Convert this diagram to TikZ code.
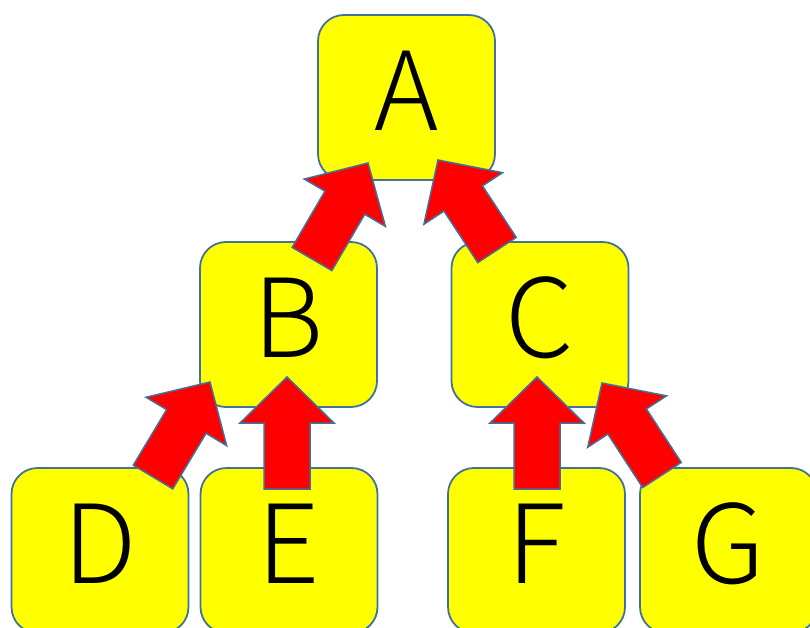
\documentclass[tikz,border=0pt]{standalone}
\usepackage{fontspec}
\newfontfamily\jpfont{Noto Sans CJK JP}[UprightFont=* Light]
\usetikzlibrary{calc}

\definecolor{boxfill}{HTML}{FFFF00}
\definecolor{boxline}{HTML}{41719C}
\definecolor{arrowfill}{HTML}{FF0000}

% block arrow dimensions
\newcommand\shafthalf{23pt}
\newcommand\winghalf{47pt}
\newcommand\headlen{46pt}

% filled block arrow from a tail coordinate to a tip coordinate
\newcommand\blockarrow[2]{%
  \coordinate (#1-base) at ($(#2)!\headlen!(#1)$);
  \draw[blockarrow]
    ($(#1)!\shafthalf!90:(#2)$) --
    ($(#1-base)!\shafthalf!90:(#2)$) --
    ($(#1-base)!\winghalf!90:(#2)$) --
    (#2) --
    ($(#1-base)!\winghalf!-90:(#2)$) --
    ($(#1-base)!\shafthalf!-90:(#2)$) --
    ($(#1)!\shafthalf!-90:(#2)$) -- cycle;
}

\tikzset{
  box/.style={draw=boxline, fill=boxfill, line width=1.8pt,
    rounded corners=26pt, minimum width=177pt, minimum height=165pt,
    inner sep=0pt, text height=80pt, text depth=14pt,
    font=\jpfont\fontsize{109}{109}\selectfont},
  blockarrow/.style={draw=boxline, fill=arrowfill, line width=1.5pt,
    line join=miter},
}

\begin{document}
\begin{tikzpicture}[x=1pt, y=-1pt]
  \useasboundingbox (0,0) rectangle (810,628);
  \clip (0,0) rectangle (810,628);

  % tree of boxes
  \node[box] (A) at (406.5,97.5) {A};
  \node[box] (B) at (288.5,324.5) {B};
  \node[box] (C) at (540,324.5) {C};
  \node[box] (D) at (100,550.5) {D};
  \node[box] (E) at (289,550.5) {E};
  \node[box] (F) at (536.5,550.5) {F};
  \node[box] (G) at (728.5,550.5) {G};

  % arrow ends
  \coordinate (DBtail) at (153,477);  \coordinate (DBtip) at (210,382);
  \coordinate (EBtail) at (287,489);  \coordinate (EBtip) at (287,377);
  \coordinate (FCtail) at (537,489);  \coordinate (FCtip) at (537,377);
  \coordinate (GCtail) at (662,475);  \coordinate (GCtip) at (602,383);
  \coordinate (BAtail) at (312,259);  \coordinate (BAtip) at (368,163);
  \coordinate (CAtail) at (497,250);  \coordinate (CAtip) at (438,160);

  \blockarrow{DBtail}{DBtip}
  \blockarrow{EBtail}{EBtip}
  \blockarrow{FCtail}{FCtip}
  \blockarrow{GCtail}{GCtip}
  \blockarrow{BAtail}{BAtip}
  \blockarrow{CAtail}{CAtip}
\end{tikzpicture}
\end{document}
